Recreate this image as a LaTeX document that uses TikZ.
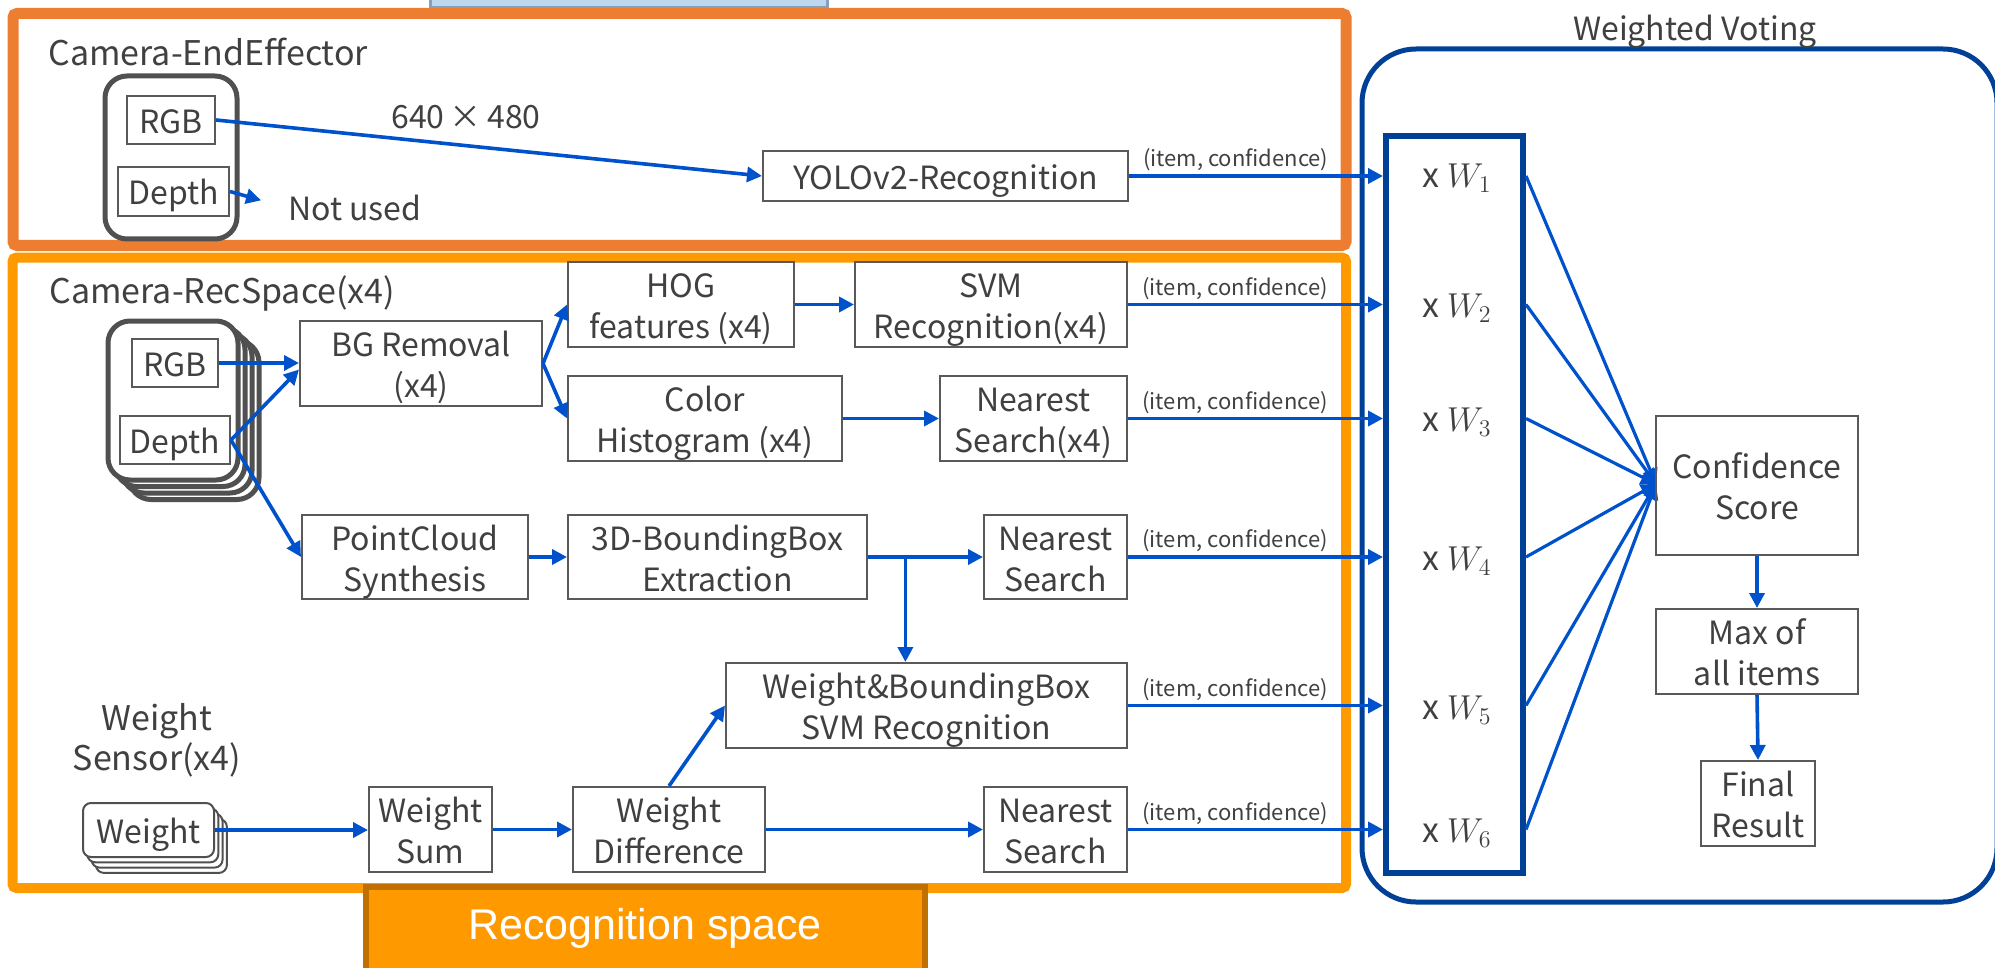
\documentclass[tikz,border=0pt]{standalone}
\usepackage{fontspec}
\setmainfont{Noto Sans CJK JP}
\newfontfamily\arialf{Liberation Sans}
\usetikzlibrary{arrows.meta,fit,calc}
\definecolor{orA}{RGB}{237,125,49}
\definecolor{orB}{RGB}{255,153,0}
\definecolor{orD}{RGB}{192,112,0}
\definecolor{arrblue}{RGB}{0,82,204}
\definecolor{dblue}{RGB}{0,64,150}
\definecolor{boxgray}{RGB}{89,89,89}
\definecolor{txt}{RGB}{64,64,64}
\definecolor{camgray}{RGB}{80,80,80}
\definecolor{lblue}{RGB}{189,215,238}
\definecolor{lblueb}{RGB}{132,160,190}
\newcommand{\capl}[1]{\smash{#1}\rule{0pt}{13.5pt}}
\begin{document}
\begin{tikzpicture}[x=0.5pt,y=-0.5pt,
  corners/.style n args={4}{at={($(#1,#2)!0.5!(#3,#4)$)}, minimum width={(#3-#1)*0.5pt}, minimum height={(#4-#2)*0.5pt}},
  box/.style={draw=boxgray, line width=1pt, inner sep=0pt, align=center, text=txt, font=\fontsize{16}{20.5}\selectfont},
  arr/.style={draw=arrblue, line width=1.8pt, -{Triangle[length=7.5pt,width=7.5pt]}},
  itemlbl/.style={text=txt, font=\fontsize{11}{13}\selectfont, inner sep=1.5pt},
  sect/.style={text=txt, font=\fontsize{17}{20}\selectfont, inner sep=0pt, align=center},
  wlbl/.style={text=txt, font=\fontsize{17}{20}\selectfont, inner sep=0pt},
  cam/.style={draw=camgray, line width=2.5pt, fill=white, rounded corners=11pt, inner sep=0pt},
  wsens/.style={draw=camgray, line width=1pt, fill=white, rounded corners=4pt, inner sep=0pt},
]
\path[use as bounding box] (0,0) rectangle (1995,968);
\clip (0,0) rectangle (1995,968);

% top light blue box (cut off)
\draw[fill=lblue, draw=lblueb, line width=1.5pt] (430,-20) rectangle (827,8);

% frames
\draw[orA, line width=5.5pt, rounded corners=2pt] (13,13.5) rectangle (1346,245.5);
\draw[orB, line width=5pt, rounded corners=2pt] (12.5,257.5) rectangle (1346,888);
\draw[dblue, line width=2.5pt, rounded corners=27pt] (1362,49) rectangle (1997,902);
\node[text=txt, font=\fontsize{16}{19}\selectfont] (wvlabel) at (1695,32) {Weighted Voting};

% recognition space tab
\node[draw=orD, fill=orB, line width=3pt, inner sep=0pt, fit={(366,887) (925,1000)}] (recog) {};
\node[text=white, font=\arialf\fontsize{21.5}{24}\selectfont] (recogt) at (645,928) {Recognition space};

% ---------- Camera-EndEffector ----------
\node[sect, anchor=west] (camEEl) at (48,52) {Camera-EndEffector};
\node[cam, fit={(105,76) (237,239)}] (camEE) {};
\node[box, corners={127}{96}{215}{144}] (rgb1) {\capl{RGB}};
\node[box, corners={118}{167}{229}{216}] (depth1) {\capl{Depth}};
\node[text=txt, font=\fontsize{16}{19}\selectfont] (res) at (466,117) {640\,×\,480};
\node[text=txt, font=\fontsize{16}{19}\selectfont, anchor=west, inner sep=0pt] (notused) at (288,208) {Not used};
\node[box, corners={763}{151}{1128}{201}] (yolo) {\capl{YOLOv2-Recognition}};
\draw[arr] (rgb1.east) -- (yolo.west);
\draw[arr, shorten >=14pt] (depth1.east) -- (notused.west);

% ---------- Camera-RecSpace ----------
\node[sect, anchor=west] (camRSl) at (49,293) {Camera-RecSpace(x4)};
\node[cam, fit={(129,340.5) (259,499.5)}] (camB3) {};
\node[cam, fit={(122,334) (252,493)}] (camB2) {};
\node[cam, fit={(115,327.5) (245,486.5)}] (camB1) {};
\node[cam, fit={(108,321) (238,480)}] (camRS) {};
\node[box, corners={132}{339}{218}{387}] (rgb2) {\capl{RGB}};
\node[box, corners={120}{416}{230}{464}] (depth2) {\capl{Depth}};

\node[box, corners={300}{321}{542}{406}] (bg) {\capl{BG Removal}\\\capl{(x4)}};
\node[box, corners={568}{262}{794}{347}] (hog) {\capl{HOG}\\\capl{features (x4)}};
\node[box, corners={855}{262}{1127}{347}] (svm) {\capl{SVM}\\\capl{Recognition(x4)}};
\node[box, corners={568}{376}{842}{461}] (color) {\capl{Color}\\\capl{Histogram (x4)}};
\node[box, corners={940}{376}{1127}{461}] (near3) {\capl{Nearest}\\\capl{Search(x4)}};
\node[box, corners={302}{515}{528}{599}] (pc) {\capl{PointCloud}\\\capl{Synthesis}};
\node[box, corners={568}{515}{867}{599}] (bb3d) {\capl{3D-BoundingBox}\\\capl{Extraction}};
\node[box, corners={984}{515}{1127}{599}] (near4) {\capl{Nearest}\\\capl{Search}};
\node[box, corners={726}{663}{1127}{748}] (wbb) {\capl{Weight\&BoundingBox}\\\capl{SVM Recognition}};

\draw[arr] (rgb2.east) -- (rgb2.east -| bg.west);
\draw[arr] (depth2.east) -- ($(bg.west)+(0,6)$);
\draw[arr] (depth2.east) -- (pc.west);
\draw[arr] (bg.east) -- (hog.west);
\draw[arr] (bg.east) -- (color.west);
\draw[arr] (hog.east) -- (hog.east -| svm.west);
\draw[arr] (color.east) -- (color.east -| near3.west);
\draw[arr] (pc.east) -- (pc.east -| bb3d.west);
\draw[arr] (bb3d.east) -- (bb3d.east -| near4.west);
\path (bb3d.east) -- (bb3d.east -| near4.west) coordinate[pos=0.325] (br);
\draw[arr] (br) -- (br |- wbb.north);

% ---------- Weight sensor ----------
\node[sect] (wsl) at (157,740) {Weight\\Sensor(x4)};
\node[wsens, fit={(95.9,818.9) (226.9,872.9)}] (wsB3) {};
\node[wsens, fit={(91.6,813.6) (222.6,867.6)}] (wsB2) {};
\node[wsens, fit={(87.3,808.3) (218.3,862.3)}] (wsB1) {};
\node[wsens, corners={83}{803}{214}{857}, text=txt, font=\fontsize{16}{19}\selectfont] (ws0) {\capl{Weight}};
\node[box, corners={369}{787}{492}{872}] (wsum) {\capl{Weight}\\\capl{Sum}};
\node[box, corners={573}{787}{765}{872}] (wdiff) {\capl{Weight}\\\capl{Difference}};
\node[box, corners={984}{787}{1127}{872}] (near6) {\capl{Nearest}\\\capl{Search}};
\draw[arr] (ws0.east) -- (ws0.east -| wsum.west);
\draw[arr] (wsum.east) -- (wsum.east -| wdiff.west);
\draw[arr] (wdiff.east) -- (wdiff.east -| near6.west);
\draw[arr] (wdiff.north) -- (wbb.west);

% ---------- Weighted voting ----------
\node[draw=dblue, line width=3pt, inner sep=0pt, fit={(1386,136) (1523,873)}] (wbox) {};
\node[wlbl] (w1) at (1457,178) {x $W_1$};
\node[wlbl] (w2) at (1457,308) {x $W_2$};
\node[wlbl] (w3) at (1457,422) {x $W_3$};
\node[wlbl] (w4) at (1457,561) {x $W_4$};
\node[wlbl] (w5) at (1457,710) {x $W_5$};
\node[wlbl] (w6) at (1457,833) {x $W_6$};

\foreach \s in {yolo,svm,near3,near4,wbb,near6}{
  \draw[arr] (\s.east) -- (\s.east -| wbox.west) node[itemlbl, above, pos=0.42] {(item, confidence)};
  \draw[arr, line width=1.6pt] (\s.east -| wbox.east) -- (1656,484);
}

\node[box, corners={1656}{416}{1858}{555}] (conf) {\capl{Confidence}\\\capl{Score}};
\node[box, corners={1656}{609}{1858}{694}] (maxi) {\capl{Max of}\\\capl{all items}};
\node[box, corners={1701}{761}{1815}{846}] (final) {\capl{Final}\\\capl{Result}};
\draw[arr] (conf.south) -- (maxi.north);
\draw[arr] (maxi.south) -- (final.north);
\end{tikzpicture}
\end{document}
